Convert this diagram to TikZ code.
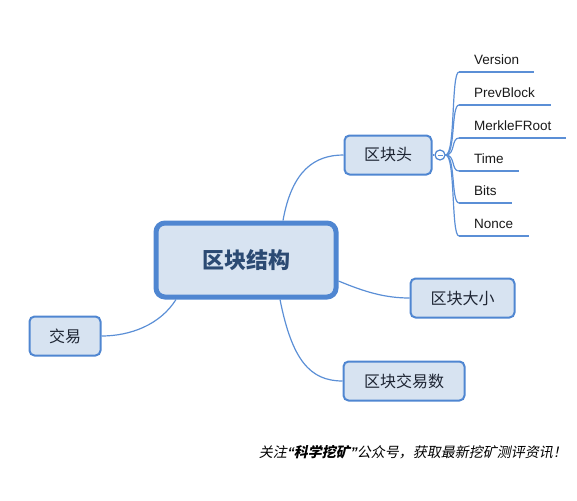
\documentclass[tikz,border=0pt]{standalone}
\usepackage{fontspec}
\setmainfont{Liberation Sans}
\newfontfamily\cjk{Noto Sans CJK SC}
\newfontfamily\cjkslant{Noto Sans CJK SC}[FakeSlant=0.2]
\newfontfamily\latslant{Liberation Sans}[FakeSlant=0.2]
\definecolor{bord}{HTML}{4F86D1}
\definecolor{fillc}{HTML}{D7E3F1}
\definecolor{linec}{HTML}{5B8FD6}
\definecolor{maintext}{HTML}{2B4A73}
\definecolor{subtext}{HTML}{1E2533}
\tikzset{
  topic/.style={draw=bord, fill=fillc, line width=2pt, rounded corners=5pt, font=\cjk\fontsize{16}{16}\selectfont, text=subtext, inner sep=0pt},
  maintopic/.style={draw=bord, fill=fillc, line width=5pt, rounded corners=9pt, font=\cjk\bfseries\fontsize{22}{22}\selectfont, text=maintext, inner sep=0pt},
  conn/.style={draw=linec, line width=1.2pt},
  under/.style={draw=linec, line width=2.5pt},
  leaf/.style={font=\fontsize{13.5}{13.5}\selectfont, text=black!90, inner sep=0pt}
}
\begin{document}
\begin{tikzpicture}[x=1pt,y=-1pt]
\useasboundingbox (0,0) rectangle (577,500);
\node[maintopic, minimum width=180pt, minimum height=74pt] (main) at (246,260) {区块结构};
\node[topic, minimum width=87pt, minimum height=39pt] (head) at (388,155) {区块头};
\node[topic, minimum width=104pt, minimum height=39pt] (size) at (462.5,298) {区块大小};
\node[topic, minimum width=121pt, minimum height=39pt] (count) at (404,381) {区块交易数};
\node[topic, minimum width=71pt, minimum height=39pt] (tx) at (65,336) {交易};
\node[circle, draw=bord, fill=white, line width=1.2pt, minimum size=10pt, inner sep=0pt] (tog) at (440,155) {};
\draw[linec, line width=1pt] ([xshift=-2.5pt]tog.center) -- ([xshift=2.5pt]tog.center);
\draw[conn] (head.east) -- (tog.west);
% main connectors
\draw[conn] ([xshift=37pt]main.north) .. controls (292,170) and (315,155) .. (head.west);
\draw[conn] ([yshift=-21pt]main.east) .. controls (365,292) and (385,298) .. (size.west);
\draw[conn] ([xshift=34pt]main.south) .. controls (292,360) and (310,381) .. (count.west);
\draw[conn] ([xshift=-70pt]main.south) .. controls (160,325) and (130,336) .. (tx.east);
% leaves
\foreach \nm/\txt/\yy/\xe in {v/Version/72/534, p/PrevBlock/105/551, m/MerkleFRoot/138/566, t/Time/171/519, b/Bits/203/512, n/Nonce/236/529} {
  \node[leaf, anchor=base west] (\nm) at (474,\yy-7.5) {\txt};
  \coordinate (\nm s) at (459,\yy);
  \coordinate (\nm e) at (\xe,\yy);
  \draw[under] (\nm s) -- (\nm e);
  \draw[conn] (tog.east) .. controls +(10,0) and +(-8,0) .. (\nm s);
}
\node[font=\cjkslant\fontsize{14}{14}\selectfont, text=black, anchor=east, inner sep=0pt] (foot) at (567,452) {关注{\latslant\bfseries “}{\bfseries 科学挖矿}{\latslant\bfseries ”}公众号，获取最新挖矿测评资讯！};
\end{tikzpicture}
\end{document}
